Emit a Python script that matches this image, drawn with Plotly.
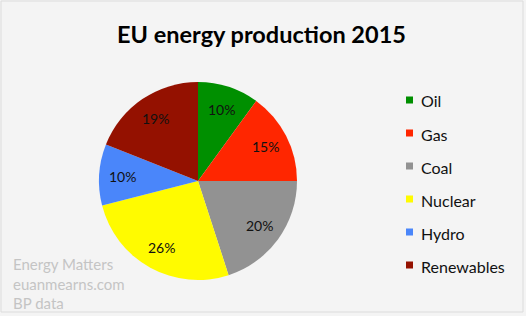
import math
import plotly.graph_objects as go

labels = ["Oil", "Gas", "Coal", "Nuclear", "Hydro", "Renewables"]
values = [10, 15, 20, 26, 10, 19]
colors = ["#008f00", "#ff2600", "#929292", "#fffb00", "#4a86fa", "#941100"]
title = "EU energy production 2015"
credit = ["Energy Matters", "euanmearns.com", "BP data"]

W, H = 526, 316
font = "Lato, 'Open Sans', sans-serif"

# pie geometry (pixels)
cx, cy, R = 198, 181, 97
Rd = 99  # domain half-size (plotly trims slightly)

fig = go.Figure()
fig.add_trace(go.Pie(
    labels=labels, values=values, sort=False, direction="clockwise", rotation=0,
    marker=dict(colors=colors, line=dict(width=0)),
    textposition="none",
    domain=dict(x=[(cx - Rd) / W, (cx + Rd) / W], y=[1 - (cy + Rd) / H, 1 - (cy - Rd) / H]),
    showlegend=False, hoverinfo="label+percent",
))

shapes = [dict(type="rect", xref="paper", yref="paper", x0=1 / W, x1=523 / W,
               y0=1 - 312 / H, y1=1 - 1 / H, line=dict(color="#dcdcdc", width=1))]
annotations = [dict(text="<b>" + title + "</b>", x=261 / W, y=1 - 34 / H, xref="paper", yref="paper",
                    showarrow=False, font=dict(family=font, size=23.5, color="#000000"),
                    xanchor="center", yanchor="middle")]

# percent labels placed at the mid-angle of each slice
total = sum(values)
cum = 0
for v in values:
    mid = (cum + v / 2) / total * 2 * math.pi
    cum += v
    px = cx + 0.78 * R * math.sin(mid)
    py = cy - 0.78 * R * math.cos(mid)
    annotations.append(dict(text=f"{round(100 * v / total)}%", x=px / W, y=1 - py / H,
                            xref="paper", yref="paper", showarrow=False,
                            xanchor="center", yanchor="middle",
                            font=dict(family=font, size=14, color="#111111")))

y0, dy = 100, 33
for i, (lab, col) in enumerate(zip(labels, colors)):
    yc = y0 + i * dy
    shapes.append(dict(type="rect", xref="paper", yref="paper",
                       x0=406 / W, x1=413 / W, y0=1 - (yc + 3.5) / H, y1=1 - (yc - 3.5) / H,
                       fillcolor=col, line=dict(width=0)))
    annotations.append(dict(text=lab, x=419 / W, y=1 - (yc + 1) / H, xref="paper", yref="paper",
                            showarrow=False, xanchor="left", yanchor="middle",
                            font=dict(family=font, size=16, color="#111111")))

for i, line in enumerate(credit):
    annotations.append(dict(text=line, x=11 / W, y=1 - (264 + i * 19.5) / H, xref="paper", yref="paper",
                            showarrow=False, xanchor="left", yanchor="middle",
                            font=dict(family=font, size=15, color="#c4c4c4")))

fig.update_layout(
    width=W, height=H, margin=dict(l=0, r=0, t=0, b=0),
    paper_bgcolor="#f4f4f4", plot_bgcolor="#f4f4f4",
    shapes=shapes, annotations=annotations,
)
fig.write_html("out.html")
